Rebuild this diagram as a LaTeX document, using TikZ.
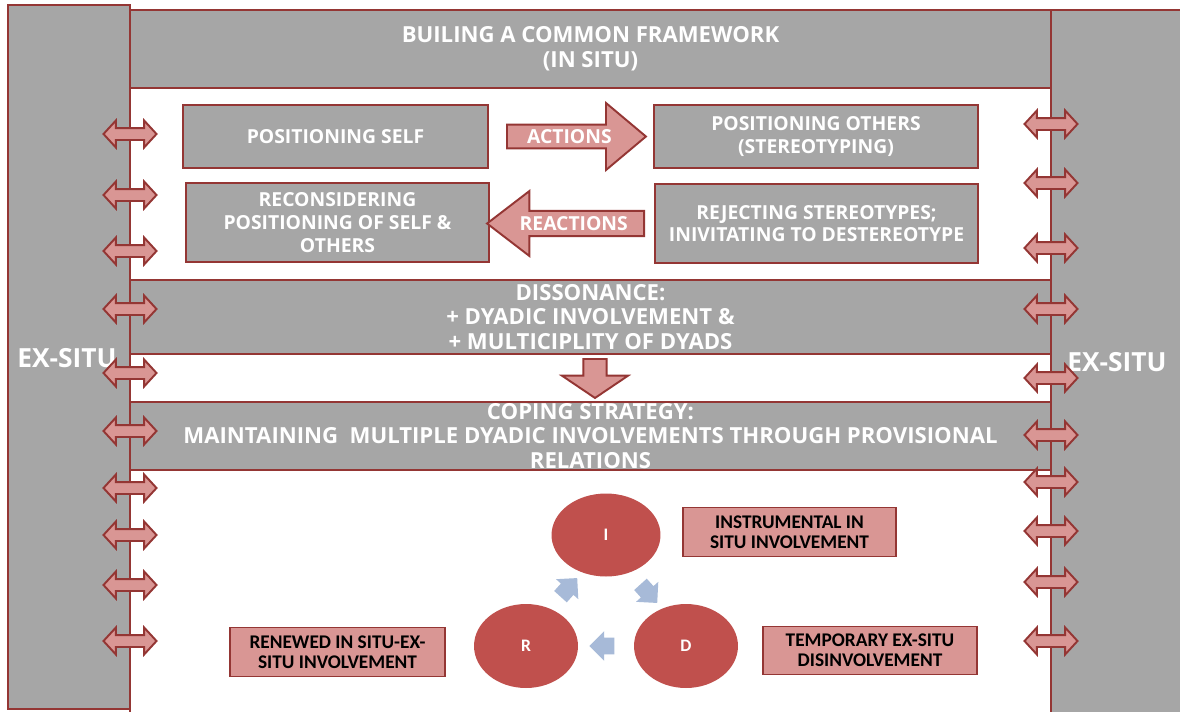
\documentclass[tikz,border=0pt]{standalone}
\usepackage{fontspec}
\setmainfont{Open Sans}
\newfontfamily\notefont{Carlito}
\usetikzlibrary{shapes.geometric,shapes.arrows,calc}
\definecolor{rim}{HTML}{943634}
\definecolor{slab}{HTML}{A6A6A6}
\definecolor{rose}{HTML}{D99694}
\definecolor{brick}{HTML}{C0504D}
\definecolor{haze}{HTML}{A7BAD8}
\begin{document}
\begin{tikzpicture}[x=0.02cm,y=-0.02cm,line width=1.1pt]
\tikzstyle{bar}=[draw=rim,fill=slab,inner sep=0]
\tikzstyle{barlabel}=[text=white,font=\bfseries\fontsize{15}{17}\selectfont]
\tikzstyle{band}=[draw=rim,fill=slab,text=white,align=center,inner sep=0,
  minimum width=18.42cm,font=\bfseries\fontsize{12.6}{14}\selectfont]
\tikzstyle{stance}=[draw=rim,fill=slab,text=white,align=center,
  font=\bfseries\fontsize{11}{13}\selectfont]
\tikzstyle{push}=[single arrow,draw=rim,fill=rose,text=white,inner sep=1pt,
  font=\bfseries\fontsize{11}{13}\selectfont]
\tikzstyle{link}=[double arrow,draw=rim,fill=rose,inner xsep=0,inner ysep=0.1cm,
  minimum height=1.06cm,double arrow head extend=0.15cm,double arrow tip angle=95]
\tikzstyle{stage}=[ellipse,fill=brick,text=white,inner sep=0,
  font=\notefont\bfseries\fontsize{10}{12}\selectfont]
\tikzstyle{turn}=[single arrow,fill=haze,inner xsep=0,inner ysep=0.15cm,
  minimum height=0.5cm,single arrow head extend=0.13cm]
\tikzstyle{note}=[draw=rim,fill=rose,align=center,
  font=\notefont\bfseries\fontsize{11}{11.5}\selectfont]
\useasboundingbox (0,0) rectangle (1180,711);
\clip (0,0) rectangle (1180,711);
% side columns
\node[bar,minimum width=2.44cm,minimum height=14.08cm] (leftbar) at (69,357) {};
\node[bar,minimum width=2.98cm,minimum height=14.4cm] (rightbar) at (1125.5,370) {};
\node[barlabel] (leftlabel) at (67,358) {EX-SITU};
\node[barlabel] (rightlabel) at (1117,362) {EX-SITU};
% middle column and its bands
\draw[draw=rim,fill=white] (130,88) rectangle (1051,730);
\node[band,minimum height=1.56cm] (frame) at (590.5,49)
  {BUILING A COMMON FRAMEWORK\\(IN SITU)};
\node[band,minimum height=1.48cm] (dissonance) at (590.5,317)
  {DISSONANCE:\\+ DYADIC INVOLVEMENT \&\\+ MULTICIPLITY OF DYADS};
\node[band,minimum height=1.36cm] (coping) at (590.5,436)
  {COPING STRATEGY:\\MAINTAINING\ \ MULTIPLE DYADIC INVOLVEMENTS THROUGH PROVISIONAL\\RELATIONS};
% positioning cycle
\node[stance,minimum width=6.1cm,minimum height=1.26cm] (self) at (335.5,136.5) {POSITIONING SELF};
\node[stance,minimum width=6.48cm,minimum height=1.26cm] (others) at (816,136.5)
  {POSITIONING OTHERS\\(STEREOTYPING)};
\node[stance,minimum width=6.06cm,minimum height=1.58cm] (reconsider) at (337.5,222.5)
  {RECONSIDERING\\POSITIONING OF SELF \&\\OTHERS};
\node[stance,minimum width=6.46cm,minimum height=1.58cm] (reject) at (816.5,223.5)
  {REJECTING STEREOTYPES;\\INIVITATING TO DESTEREOTYPE};
\node[push,anchor=tail,minimum height=2.78cm,minimum width=1.34cm,
  single arrow head extend=0.36cm,single arrow tip angle=80] (actions) at (506,136.5) {ACTIONS};
\node[push,anchor=tail,shape border rotate=180,minimum height=3.14cm,minimum width=1.3cm,
  single arrow head extend=0.31cm,single arrow tip angle=75] (reactions) at (645,223.5) {REACTIONS};
\node[push,anchor=tail,shape border rotate=270,minimum height=0.78cm,minimum width=1.32cm,
  single arrow head extend=0.1cm,single arrow tip angle=112] (down) at (595,358) {};
% involvement cycle
\node[stage,minimum width=2.18cm,minimum height=1.66cm] (i) at (606,535) {I};
\node[stage,minimum width=2.08cm,minimum height=1.68cm] (r) at (526,646) {R};
\node[stage,minimum width=2.08cm,minimum height=1.68cm] (d) at (686,646) {D};
\node[turn,rotate=48] (ri) at ($(r)!0.5!(i)$) {};
\node[turn,rotate=-48] (id) at ($(i)!0.5!(d)$) {};
\node[turn,rotate=180] (dr) at ($(d)!0.5!(r)$) {};
\node[note,minimum width=4.26cm,minimum height=0.98cm] (instr) at (789.5,532)
  {INSTRUMENTAL IN\\SITU INVOLVEMENT};
\node[note,minimum width=4.28cm,minimum height=0.96cm] (temp) at (870,650.5)
  {TEMPORARY EX-SITU\\DISINVOLVEMENT};
\node[note,minimum width=4.3cm,minimum height=0.98cm] (renew) at (337.5,652)
  {RENEWED IN SITU-EX-\\SITU INVOLVEMENT};
% exchanges with ex-situ
\foreach \y in {134,195,251,309,373,431,488,535,585,641}
  \node[link] (left\y) at (130,\y) {};
\foreach \y in {124,183,248,309,378,435,482,531,582,641}
  \node[link] (right\y) at (1051,\y) {};
\end{tikzpicture}
\end{document}
